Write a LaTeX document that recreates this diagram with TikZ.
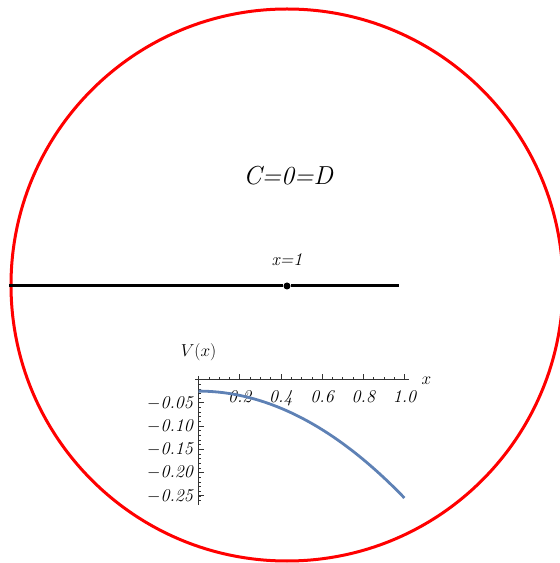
\documentclass[tikz,border=0pt]{standalone}
\usetikzlibrary{positioning}
\definecolor{ringRed}{HTML}{FF0000}
\definecolor{curveBlue}{HTML}{5E81B5}
\definecolor{axisGrey}{HTML}{333333}

\begin{document}
\begin{tikzpicture}[x=1pt,y=1pt,font=\fontsize{18}{20}\selectfont\itshape,
    tick/.style={axisGrey,line width=0.6pt}]
  \useasboundingbox (0,0) rectangle (560,563);
  \clip (0,0) rectangle (560,563);
  % boundary circle
  \draw[ringRed,line width=3pt] (287,278) circle (276);
  % segment with the marked point
  \coordinate (segL) at (9,277);
  \coordinate (segR) at (399,277);
  \node[circle,fill,inner sep=0pt,minimum size=7pt] (xone) at (287,277) {};
  \draw[line width=3pt] (segL) -- (xone) -- (segR);
  \node (xlab) at (287,303) {x=1};
  \node[font=\fontsize{26}{30}\selectfont\itshape] (cd) at (288,387) {C=0=D};
  % inset plot of V(x)
  \begin{scope}[shift={(198.5,183.5)},x=206pt,y=465pt]
    \draw[tick] (-0.015,0) -- (1.02,0);
    \draw[tick] (0,0.008) -- (0,-0.27);
    \foreach \t in {0.05,0.1,...,1.01}
      \draw[tick] (\t,0) -- ++(0,2.5pt);
    \foreach \t in {0.2,0.4,0.6,0.8,1.0}{
      \draw[tick] (\t,0) -- ++(0,5pt);
      \node[anchor=north,yshift=-7pt] at (\t,0) {\t};}
    \foreach \t in {-0.01,-0.02,...,-0.265}
      \draw[tick] (0,\t) -- ++(2.5pt,0);
    \foreach \t/\lab in {-0.05/0.05,-0.10/0.10,-0.15/0.15,-0.20/0.20,-0.25/0.25}{
      \draw[tick] (0,\t) -- ++(5pt,0);
      \node[anchor=east,xshift=-2pt] at (0,\t) {$-$\lab};}
    \node (vlab) at (0,0.059) {$V(x)$};
    \node (xaxlab) at (1.107,-0.003) {$x$};
    \draw[curveBlue,line width=2.8pt] plot[domain=0:1,samples=60] (\x,{-0.025-0.23*\x*\x});
  \end{scope}
\end{tikzpicture}
\end{document}
